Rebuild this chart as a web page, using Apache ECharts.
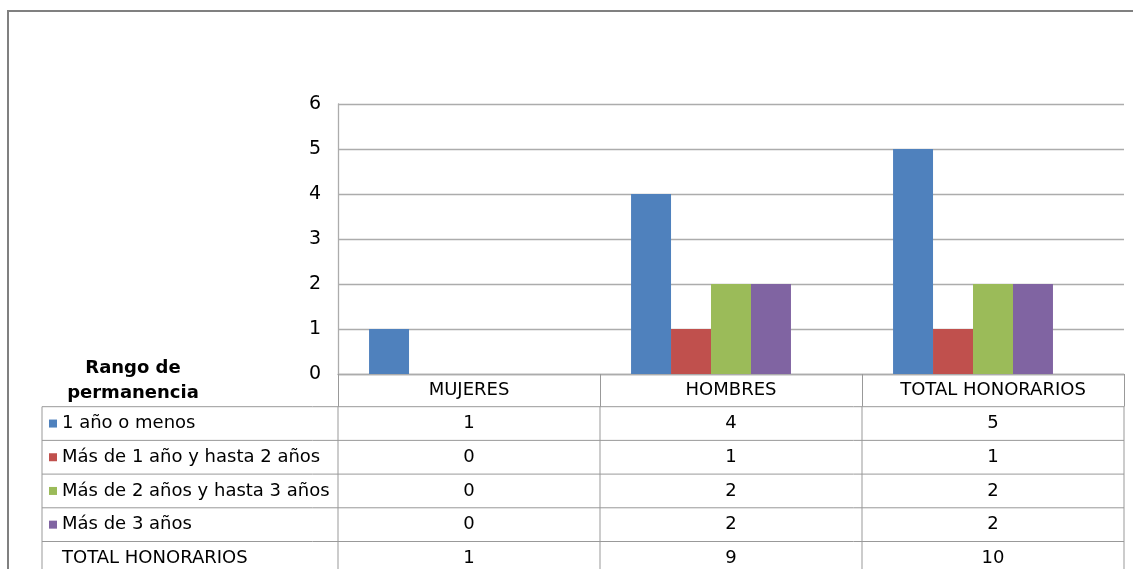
<!DOCTYPE html>
<html>
<head>
<meta charset="utf-8">
<script src="https://cdn.jsdelivr.net/npm/echarts@6/dist/echarts.min.js"></script>
<style>
html,body{margin:0;padding:0;background:#fff;}
#c{width:1133px;height:569px;}
</style>
</head>
<body>
<div id="c"></div>
<script>
const categories = ['MUJERES', 'HOMBRES', 'TOTAL HONORARIOS'];
const seriesNames = ['1 año o menos', 'Más de 1 año y hasta 2 años', 'Más de 2 años y hasta 3 años', 'Más de 3 años', 'TOTAL HONORARIOS'];
const unoOMenos = [1, 4, 5];
const masDe1Hasta2 = [0, 1, 1];
const masDe2Hasta3 = [0, 2, 2];
const masDe3 = [0, 2, 2];
const totalHonorarios = [1, 9, 10];
const yTickLabels = ['0', '1', '2', '3', '4', '5', '6'];
const tableTitle = ['Rango de', 'permanencia'];

const seriesValues = [unoOMenos, masDe1Hasta2, masDe2Hasta3, masDe3, totalHonorarios];
const colors = ['#4F81BD', '#C0504D', '#9BBB59', '#8064A2', 'rgba(0,0,0,0)'];
const showKey = [true, true, true, true, false];

const FONT = 'DejaVu Sans';
const GRID_COLOR = '#acacac';
const TABLE_COLOR = '#999999';
const HEADER_H = 32.7;
const ROW_H = 33.7;

const chart = echarts.init(document.getElementById('c'), null, {renderer: 'canvas'});

const option = {
  animation: false,
  backgroundColor: '#fff',
  grid: {left: 338, top: 104, width: 786, height: 270, containLabel: false},
  xAxis: {
    type: 'category',
    data: categories,
    axisLine: {show: true, lineStyle: {color: GRID_COLOR, width: 1.3}},
    axisTick: {show: true, interval: 0, alignWithLabel: false, length: HEADER_H, lineStyle: {color: TABLE_COLOR}},
    axisLabel: {interval: 0, margin: 16, verticalAlign: 'middle', color: '#000', fontFamily: FONT, fontSize: 18},
    splitLine: {show: false}
  },
  yAxis: {
    type: 'value',
    min: 0, max: 6, interval: 1,
    axisLine: {show: true, lineStyle: {color: GRID_COLOR, width: 1.3}},
    axisTick: {show: false},
    axisLabel: {margin: 17, color: '#000', fontFamily: FONT, fontSize: 19,
      formatter: function (v) { return yTickLabels[Math.round(v)]; }},
    splitLine: {show: true, lineStyle: {color: GRID_COLOR, width: 1.3}}
  },
  series: seriesValues.map(function (vals, i) {
    return {
      name: seriesNames[i],
      type: 'bar',
      data: vals,
      barGap: 0,
      barCategoryGap: '23.7%',
      silent: i === 4,
      itemStyle: {color: colors[i]}
    };
  })
};

chart.setOption(option);

function buildTable() {
  const centers = categories.map(function (c, i) { return chart.convertToPixel({xAxisIndex: 0}, i); });
  const band = centers[1] - centers[0];
  const bounds = [centers[0] - band / 2].concat(centers.map(function (c) { return c + band / 2; }));
  const y0 = chart.convertToPixel({yAxisIndex: 0}, 0);
  const tableTop = y0 + HEADER_H;
  const leftX = 42;
  const rightX = bounds[bounds.length - 1];
  const g = [];
  const nRows = seriesNames.length;
  for (let j = 0; j <= nRows; j++) {
    const y = tableTop + j * ROW_H;
    g.push({type: 'line', shape: {x1: leftX, y1: y, x2: rightX, y2: y}, style: {stroke: TABLE_COLOR, lineWidth: 1}, silent: true});
  }
  const bottom = tableTop + nRows * ROW_H;
  g.push({type: 'line', shape: {x1: leftX, y1: tableTop, x2: leftX, y2: bottom}, style: {stroke: TABLE_COLOR, lineWidth: 1}, silent: true});
  bounds.forEach(function (bx) {
    g.push({type: 'line', shape: {x1: bx, y1: tableTop, x2: bx, y2: bottom}, style: {stroke: TABLE_COLOR, lineWidth: 1}, silent: true});
  });
  for (let i = 0; i < nRows; i++) {
    const cy = tableTop + (i + 0.5) * ROW_H;
    if (showKey[i]) {
      g.push({type: 'rect', shape: {x: 49, y: cy - 4, width: 8, height: 8}, style: {fill: colors[i]}, silent: true});
    }
    g.push({type: 'text', x: 62, y: cy, style: {text: seriesNames[i], fill: '#000', font: '18px "' + FONT + '"', align: 'left', verticalAlign: 'middle'}, silent: true});
    seriesValues[i].forEach(function (v, k) {
      g.push({type: 'text', x: centers[k], y: cy, style: {text: String(v), fill: '#000', font: '18px "' + FONT + '"', align: 'center', verticalAlign: 'middle'}, silent: true});
    });
  }
  g.push({type: 'text', x: 133, y: 368, style: {text: tableTitle[0], fill: '#000', font: 'bold 18px "' + FONT + '"', align: 'center', verticalAlign: 'middle'}, silent: true});
  g.push({type: 'text', x: 133, y: 393, style: {text: tableTitle[1], fill: '#000', font: 'bold 18px "' + FONT + '"', align: 'center', verticalAlign: 'middle'}, silent: true});
  g.push({type: 'polyline', shape: {points: [[8, 600], [8, 11], [1140, 11]]}, style: {stroke: '#808080', lineWidth: 2, fill: null}, silent: true});
  chart.setOption({graphic: g});
}
buildTable();
</script>
</body>
</html>
